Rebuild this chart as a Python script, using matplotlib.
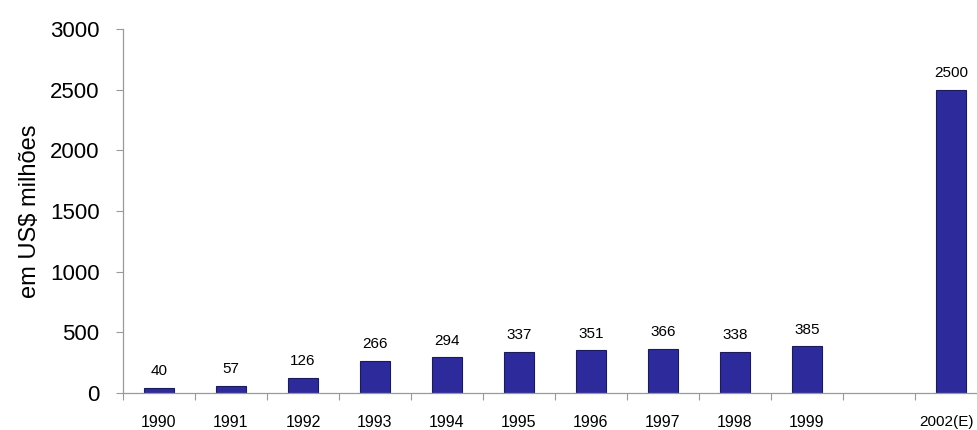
import numpy as np
import matplotlib
matplotlib.use('Agg')
import matplotlib.pyplot as plt
import matplotlib.ticker as plticker
import matplotlib.transforms as mtransforms

# investment values, em US$ milhoes (empty slot between 1999 and the estimate)
years = ['1990', '1991', '1992', '1993', '1994', '1995', '1996', '1997', '1998', '1999', '', '2002(E)']
values = [40, 57, 126, 266, 294, 337, 351, 366, 338, 385, None, 2500]

plt.rcParams['font.family'] = ['Liberation Sans', 'DejaVu Sans']

bar_color = '#2d2a9c'
edge_color = '#1c1b5a'
axis_color = '#9a9a9a'

fig = plt.figure(figsize=(9.77, 4.30), dpi=100)
# right edge of the axes runs past the figure
ax = fig.add_axes([123/977, 37/430, 864/977, 364/430])

x = np.arange(len(years))
for xi, v in zip(x, values):
	if v is None:
		continue
	ax.bar(xi, v, width=0.42, color=bar_color, edgecolor=edge_color, linewidth=0.8)
	ax.annotate(str(v), (xi, v), xytext=(0, 7), textcoords='offset points',
				ha='center', va='bottom', fontsize=11)

ax.set_xlim(-0.5, len(years) - 0.5)
ax.set_ylim(0, 3000)
ax.yaxis.set_major_locator(plticker.MultipleLocator(500))

# labels under the bars, tick marks between the categories
ax.set_xticks(x)
ax.set_xticklabels(years, fontsize=11.5)
ax.set_xticks(np.arange(-0.5, len(years), 1), minor=True)
ax.tick_params(axis='x', which='major', length=0, pad=16)
ax.tick_params(axis='x', which='minor', length=5, color=axis_color, width=0.8)
ax.tick_params(axis='y', length=5, color=axis_color, width=0.8, labelsize=16, pad=12)

# nudge the last label left so it stays inside the figure
last = ax.get_xticklabels()[-1]
last.set_fontsize(11)
last.set_transform(last.get_transform() + mtransforms.ScaledTranslation(-5/100, 0, fig.dpi_scale_trans))

for side in ['top', 'right']:
	ax.spines[side].set_visible(False)
for side in ['left', 'bottom']:
	ax.spines[side].set_color(axis_color)
	ax.spines[side].set_linewidth(0.9)

ax.set_ylabel('em US$ milhões', fontsize=17, labelpad=6)

plt.savefig('out.png', dpi=100)
plt.close()
